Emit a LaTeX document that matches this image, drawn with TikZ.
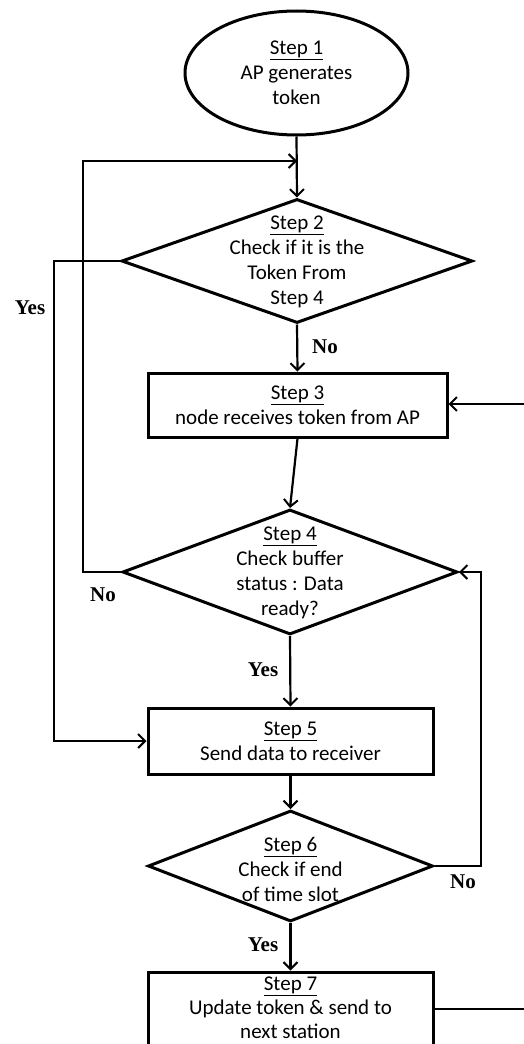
\documentclass[tikz,border=0pt]{standalone}
\usepackage{fontspec}
\setmainfont{Carlito}
\newfontfamily\lblfont{Liberation Serif}
\usetikzlibrary{shapes.geometric,arrows.meta}
\begin{document}
\begin{tikzpicture}[x=1pt,y=-1pt,
  every node/.style={font=\fontsize{21}{25}\selectfont, align=center, inner sep=0pt},
  boxnode/.style={draw, line width=3pt, rectangle},
  ellnode/.style={draw, line width=3pt, ellipse},
  dianode/.style={draw, line width=3pt, diamond},
  lbl/.style={font=\lblfont\bfseries\fontsize{21}{24}\selectfont},
  conn/.style={line width=2.2pt},
  arr/.style={conn, -{Straight Barb[length=7pt,width=14pt,line width=2pt]}}
]
\clip (0,0) rectangle (524,1044);
\useasboundingbox (0,0) rectangle (524,1044);
\fill[white] (0,0) rectangle (524,1044);

% nodes
\node[ellnode, minimum width=223pt, minimum height=124pt] (s1) at (296.5,73)
  {\underline{Step 1}\\AP generates\\token};
\node[dianode, minimum width=351pt, minimum height=124pt] (s2) at (297,261) {};
\node (t2) at (297,262) {\underline{Step 2}\\Check if it is the\\Token From\\Step 4};
\node[boxnode, minimum width=299pt, minimum height=64pt] (s3) at (297.5,405)
  {\underline{Step 3}\\node receives token from AP};
\node[dianode, minimum width=335pt, minimum height=125pt] (s4) at (290,572) {};
\node (t4) at (290,573) {\underline{Step 4}\\Check buffer\\status : Data\\ready?};
\node[boxnode, minimum width=285pt, minimum height=66pt] (s5) at (290.5,741)
  {\underline{Step 5}\\Send data to receiver};
\node[dianode, minimum width=285pt, minimum height=111pt] (s6) at (290.5,866) {};
\node (t6) at (290.5,869) {\underline{Step 6}\\Check if end\\of time slot};
\node[boxnode, minimum width=285pt, minimum height=74pt] (s7) at (290.5,1009) {};
\node[font=\fontsize{21}{24}\selectfont] (t7) at (290.5,1008)
  {\underline{Step 7}\\Update token \& send to\\next station};

% coordinates
\coordinate (m) at (297,161);
\coordinate (inR) at (524,404);
\coordinate (outR) at (524,1009);

% connectors
\draw[arr] (s1.south) -- (s2.north);
\draw[arr] (s4.west) -- (83,572) -- (83,161) -- (m);
\draw[arr] (s2.west) -- (54,261) -- (54,741) -- (s5.west);
\draw[arr] (s2.south) -- (s3.north);
\draw[arr] (inR) -- (s3.east |- inR);
\draw[arr] (s3.south) -- (s4.north);
\draw[arr] (s4.south) -- (s5.north);
\draw[arr] (s5.south) -- (s6.north);
\draw[arr] (s6.east) -- (481,866) -- (481,572) -- (s4.east);
\draw[arr] (s6.south) -- (s7.north);
\draw[conn] (s7.east) -- (outR);

% labels
\node[lbl] (l1) at (30,308) {Yes};
\node[lbl] (l2) at (325,347) {No};
\node[lbl] (l3) at (103,595) {No};
\node[lbl] (l4) at (263,670) {Yes};
\node[lbl] (l5) at (463,882) {No};
\node[lbl] (l6) at (263,945) {Yes};
\end{tikzpicture}
\end{document}
